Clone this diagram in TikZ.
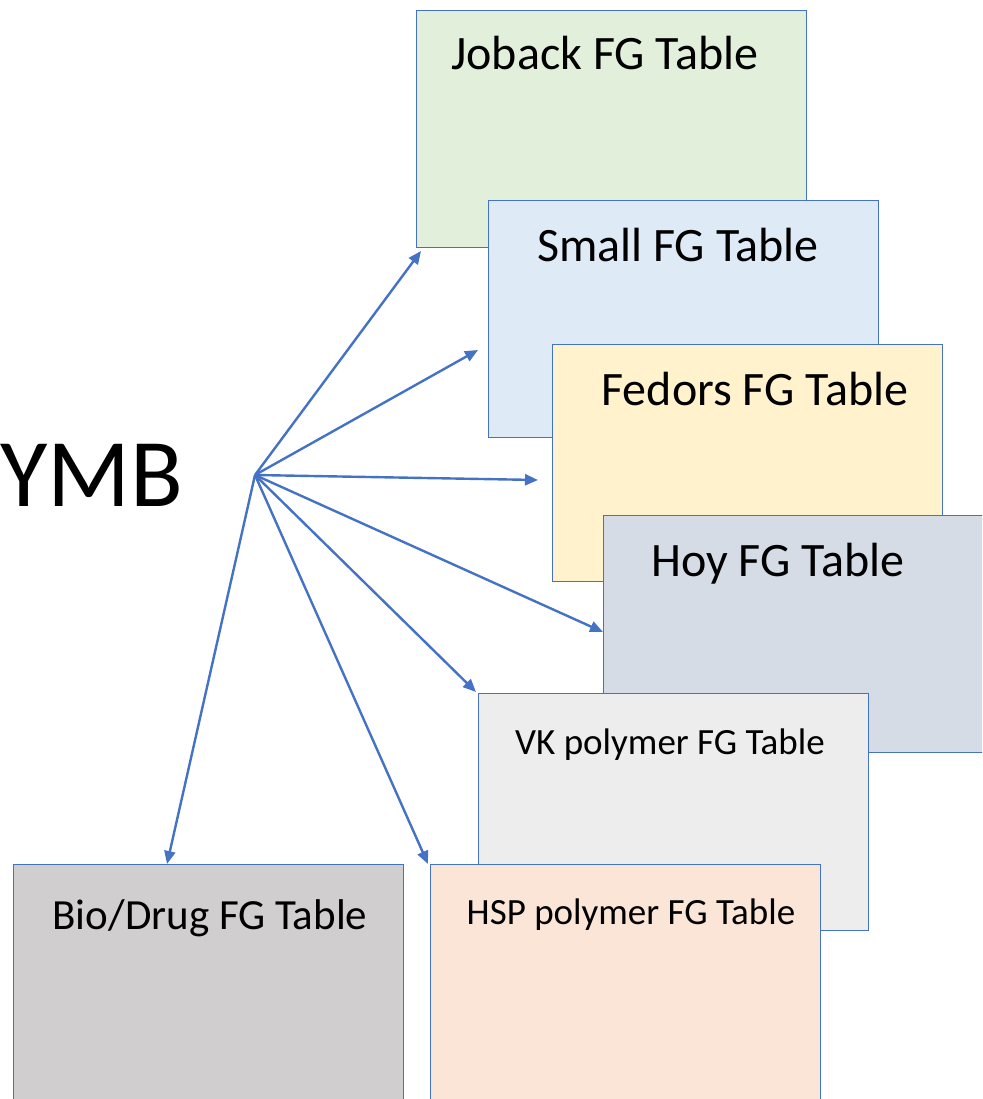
\documentclass[tikz,border=0pt]{standalone}
\usepackage{fontspec}
\setmainfont{Carlito}
\usetikzlibrary{arrows.meta}
\definecolor{edge}{HTML}{4472C4}
\definecolor{cJoback}{HTML}{E2EFDA}
\definecolor{cSmall}{HTML}{DEEBF7}
\definecolor{cFedors}{HTML}{FFF2CC}
\definecolor{cHoy}{HTML}{D6DCE5}
\definecolor{cVK}{HTML}{EDEDED}
\definecolor{cHSP}{HTML}{FBE5D6}
\definecolor{cBio}{HTML}{D0CECE}
\tikzset{
  tablebox/.style={draw=edge, line width=1.2pt, anchor=north west, inner sep=0pt,
    minimum width=390pt, minimum height=237pt},
  bigtxt/.style={anchor=base, inner sep=0pt, font=\fontsize{48}{57}\selectfont},
  midtxt/.style={anchor=base, inner sep=0pt, font=\fontsize{43}{51}\selectfont},
  smalltxt/.style={anchor=base, inner sep=0pt, font=\fontsize{37}{44}\selectfont},
  link/.style={draw=edge, line width=2.4pt, -{Triangle[length=13pt,width=11pt]}}
}
\begin{document}
\begin{tikzpicture}[x=1pt,y=-1pt]
\useasboundingbox (0,0) rectangle (982,1099);
\clip (0,0) rectangle (982,1099);
\node[tablebox, fill=cJoback] (joback) at (416,10) {};
\node[bigtxt] (tjoback) at (605,70) {Joback FG Table};
\node[tablebox, fill=cSmall] (small) at (488,200) {};
\node[bigtxt] (tsmall) at (678,261) {Small FG Table};
\node[tablebox, fill=cFedors] (fedors) at (552,344) {};
\node[bigtxt] (tfedors) at (755,405) {Fedors FG Table};
\node[tablebox, fill=cHoy] (hoy) at (603,515) {};
\node[bigtxt] (thoy) at (778,576) {Hoy FG Table};
\node[tablebox, fill=cVK] (vk) at (478,693) {};
\node[smalltxt] (tvk) at (670,754) {VK polymer FG Table};
\node[tablebox, fill=cHSP] (hsp) at (430,864) {};
\node[smalltxt] (thsp) at (631,924) {HSP polymer FG Table};
\node[tablebox, fill=cBio] (bio) at (13,864) {};
\node[midtxt] (tbio) at (210,929) {Bio/Drug FG Table};
\node[anchor=base west, inner sep=0pt, font=\fontsize{97}{116}\selectfont] (ymb) at (0,506) {YMB};
\coordinate (hub) at (255,475);
\coordinate (eJoback) at (421,251);
\coordinate (eSmall) at (478,350);
\coordinate (eFedors) at (538,480);
\coordinate (eHoy) at (603,632);
\coordinate (eVK) at (476,692);
\coordinate (eHSP) at (428,864);
\coordinate (eBio) at (167,864);
\foreach \t in {eJoback,eSmall,eFedors,eHoy,eVK,eHSP,eBio}
  \draw[link] (hub) -- (\t);
\end{tikzpicture}
\end{document}
